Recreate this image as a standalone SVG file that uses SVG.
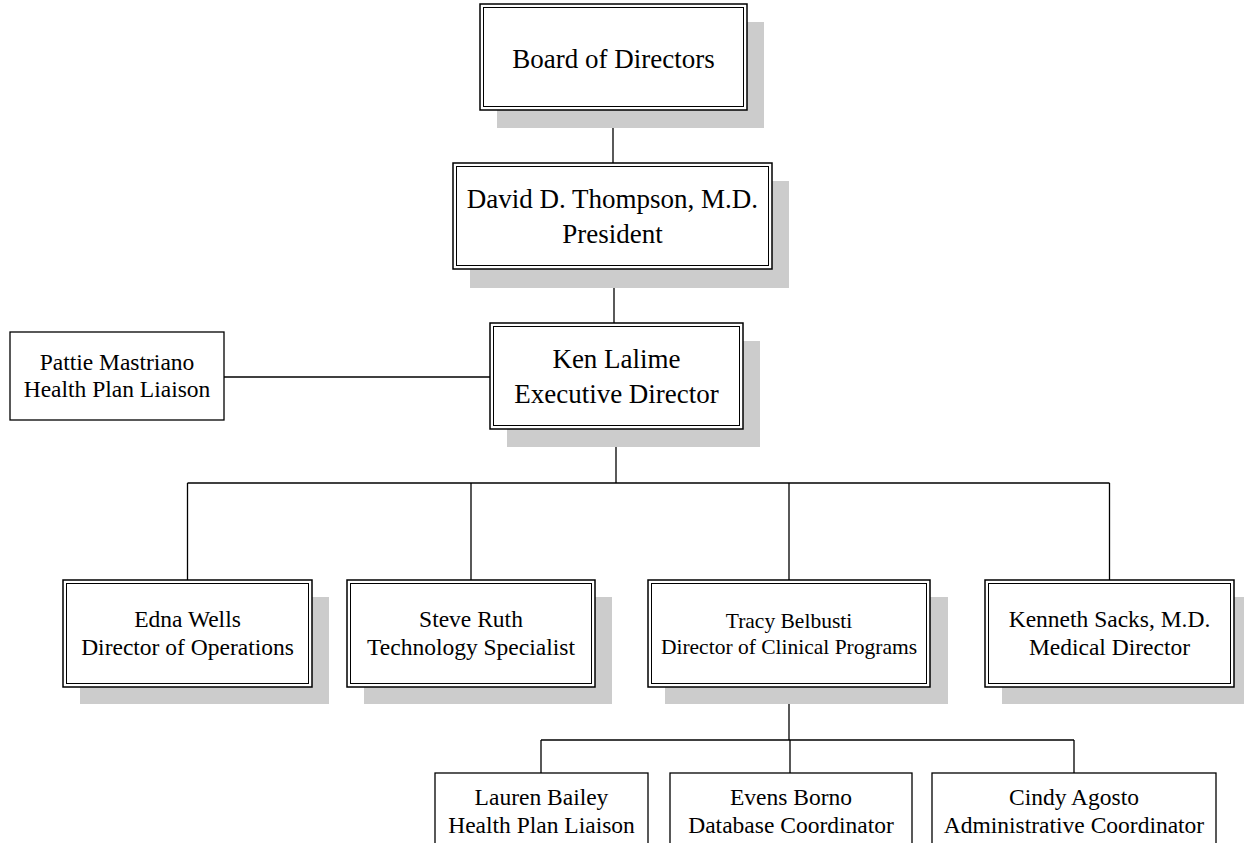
<svg xmlns="http://www.w3.org/2000/svg" width="1244" height="843" viewBox="0 0 1244 843">
<style>
.bg{fill:#ffffff}
.shadow{fill:#cccccc;stroke:none}
.outer{fill:#ffffff;stroke:#000000;stroke-width:1.5}
.inner{fill:none;stroke:#000000;stroke-width:1}
.single{fill:#ffffff;stroke:#000000;stroke-width:1.3}
.conn{fill:none;stroke:#000000;stroke-width:1.3}
text{font-family:"Liberation Serif","Times New Roman",serif;fill:#000000;text-anchor:middle}
.t27{font-size:27px}
.t23{font-size:23.5px}
.t21{font-size:21.5px}
</style>
<rect class="bg" x="0" y="0" width="1244" height="843"/>
<g id="connectors">
<path class="conn" d="M613,110 V163"/>
<path class="conn" d="M614,269 V323"/>
<path class="conn" d="M224,377 H490"/>
<path class="conn" d="M616,429 V483"/>
<path class="conn" d="M187.5,483 H1109.5"/>
<path class="conn" d="M187.5,483 V580 M471,483 V580 M789,483 V580 M1109.5,483 V580"/>
<path class="conn" d="M789,687 V740"/>
<path class="conn" d="M541,740 H1074"/>
<path class="conn" d="M541,740 V773 M790,740 V773 M1074,740 V773"/>
</g>
<g id="board">
<rect class="shadow" x="497" y="22" width="267" height="106"/>
<rect class="outer" x="480" y="4" width="267" height="106"/>
<rect class="inner" x="483.5" y="7.5" width="260" height="99"/>
<text class="t27" x="613.5" y="68">Board of Directors</text>
</g>
<g id="president">
<rect class="shadow" x="470" y="181" width="319" height="107"/>
<rect class="outer" x="453" y="163" width="319" height="106"/>
<rect class="inner" x="456.5" y="166.5" width="312" height="99"/>
<text class="t27" x="612.5" y="207.5">David D. Thompson, M.D.</text>
<text class="t27" x="612.5" y="242.5">President</text>
</g>
<g id="pattie">
<rect class="single" x="10" y="332" width="214" height="88"/>
<text class="t23" x="117" y="370">Pattie Mastriano</text>
<text class="t23" x="117" y="397">Health Plan Liaison</text>
</g>
<g id="ken">
<rect class="shadow" x="507" y="341" width="253" height="106"/>
<rect class="outer" x="490" y="323" width="253" height="106"/>
<rect class="inner" x="493.5" y="326.5" width="246" height="99"/>
<text class="t27" x="616.5" y="367.5">Ken Lalime</text>
<text class="t27" x="616.5" y="402.5">Executive Director</text>
</g>
<g id="edna">
<rect class="shadow" x="80" y="597" width="249" height="107"/>
<rect class="outer" x="63" y="580" width="249" height="107"/>
<rect class="inner" x="66.5" y="583.5" width="242" height="100"/>
<text class="t23" x="187.5" y="627">Edna Wells</text>
<text class="t23" x="187.5" y="655">Director of Operations</text>
</g>
<g id="steve">
<rect class="shadow" x="364" y="597" width="248" height="107"/>
<rect class="outer" x="347" y="580" width="248" height="107"/>
<rect class="inner" x="350.5" y="583.5" width="241" height="100"/>
<text class="t23" x="471" y="627">Steve Ruth</text>
<text class="t23" x="471" y="655">Technology Specialist</text>
</g>
<g id="tracy">
<rect class="shadow" x="665" y="597" width="283" height="107"/>
<rect class="outer" x="648" y="580" width="282" height="107"/>
<rect class="inner" x="651.5" y="583.5" width="275" height="100"/>
<text class="t21" x="789" y="628">Tracy Belbusti</text>
<text class="t21" x="789" y="654">Director of Clinical Programs</text>
</g>
<g id="kenneth">
<rect class="shadow" x="1002" y="597" width="249" height="107"/>
<rect class="outer" x="985" y="580" width="249" height="107"/>
<rect class="inner" x="988.5" y="583.5" width="242" height="100"/>
<text class="t23" x="1109.5" y="627">Kenneth Sacks, M.D.</text>
<text class="t23" x="1109.5" y="655">Medical Director</text>
</g>
<g id="lauren">
<rect class="single" x="435" y="773" width="213" height="90"/>
<text class="t23" x="541.5" y="805">Lauren Bailey</text>
<text class="t23" x="541.5" y="833">Health Plan Liaison</text>
</g>
<g id="evens">
<rect class="single" x="670" y="773" width="242" height="90"/>
<text class="t23" x="791" y="805">Evens Borno</text>
<text class="t23" x="791" y="833">Database Coordinator</text>
</g>
<g id="cindy">
<rect class="single" x="932" y="773" width="284" height="90"/>
<text class="t23" x="1074" y="805">Cindy Agosto</text>
<text class="t23" x="1074" y="833">Administrative Coordinator</text>
</g>
</svg>
